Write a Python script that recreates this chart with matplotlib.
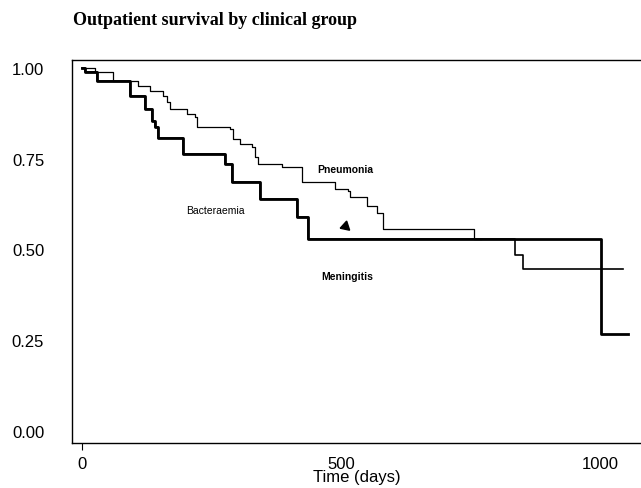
import numpy as np
import matplotlib
matplotlib.use("Agg")
import matplotlib.pyplot as plt

# Kaplan-Meier step data (time in days, survival)
pneu_t = [0, 25, 60, 108, 131, 156, 164, 170, 203, 218, 222, 286, 292, 305,
          328, 334, 340, 386, 425, 488, 514, 517, 550, 569, 581, 757, 770]
pneu_s = [1.0, 0.99, 0.964, 0.951, 0.937, 0.923, 0.906, 0.887, 0.873, 0.865,
          0.837, 0.832, 0.804, 0.79, 0.782, 0.755, 0.736, 0.727, 0.685, 0.667,
          0.661, 0.645, 0.62, 0.60, 0.556, 0.53, 0.53]

bact_t = [0, 6, 29, 93, 122, 136, 141, 147, 195, 276, 290, 344, 415, 436,
          1002, 1054]
bact_s = [1.0, 0.99, 0.964, 0.923, 0.887, 0.854, 0.837, 0.807, 0.763, 0.736,
          0.686, 0.639, 0.59, 0.53, 0.267, 0.267]

# meningitis runs under the bacteraemia curve until day 836
men_t = [0, 6, 29, 93, 122, 136, 141, 147, 195, 276, 290, 344, 415, 436,
         836, 851, 1045]
men_s = [1.0, 0.99, 0.964, 0.923, 0.887, 0.854, 0.837, 0.807, 0.763, 0.736,
         0.686, 0.639, 0.59, 0.53, 0.485, 0.446, 0.446]

xticks = [0, 500, 1000]
yticks = [0.0, 0.25, 0.5, 0.75, 1.0]

fig = plt.figure(figsize=(6.41, 4.89), dpi=100)
ax = fig.add_axes([0.1123, 0.092, 0.888, 0.7833])

ax.step(men_t, men_s, where="post", color="black", lw=1.2)
ax.step(bact_t, bact_s, where="post", color="black", lw=2.0)
ax.step(pneu_t, pneu_s, where="post", color="black", lw=0.9)

# arrow-head marker
ax.plot([508], [0.565], marker=(3, 0, -12), color="black", ms=8)

ax.text(508, 0.722, "Pneumonia", fontsize=7.5, fontweight="bold",
        family="Liberation Sans", ha="center", va="center")
ax.text(258, 0.61, "Bacteraemia", fontsize=7.5,
        family="Liberation Sans", ha="center", va="center")
ax.text(512, 0.427, "Meningitis", fontsize=7.5, fontweight="bold",
        family="Liberation Sans", ha="center", va="center")

ax.set_xlim(-19, 1080)
ax.set_ylim(-0.033, 1.022)
ax.set_xticks(xticks)
ax.set_xticklabels([str(t) for t in xticks], family="Liberation Sans", fontsize=12)
ax.set_yticks(yticks)
ax.set_yticklabels(["%.2f" % v for v in yticks], family="Liberation Sans", fontsize=12)
ax.tick_params(axis="y", length=0, pad=20)
ax.tick_params(axis="x", length=5, pad=4, direction="out")
for ln in ax.xaxis.get_ticklines()[2:]:
    ln.set_visible(False)
ax.set_xlabel("Time (days)", family="Liberation Sans", fontsize=12, labelpad=-1)

ax.spines["right"].set_visible(False)
for s in ["left", "bottom", "top"]:
    ax.spines[s].set_linewidth(1.0)

fig.text(0.114, 0.958, "Outpatient survival by clinical group",
         family="Liberation Serif", fontweight="bold", fontsize=13,
         ha="left", va="center")

fig.savefig("out.png", dpi=100)
